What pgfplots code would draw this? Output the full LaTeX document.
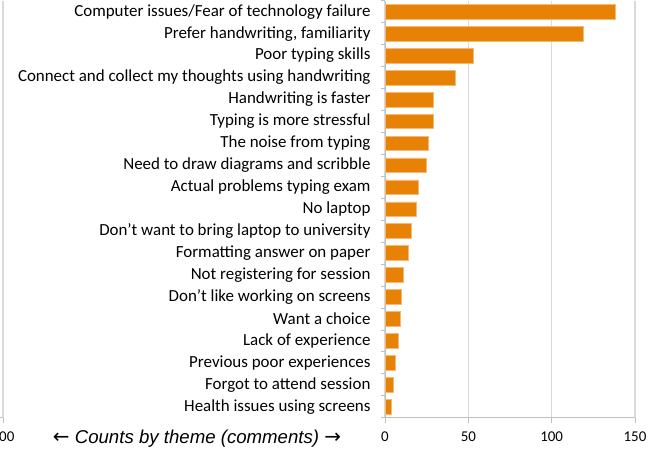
\documentclass[border=0pt]{standalone}
\usepackage{fontspec}
\setmainfont{Carlito}
\newfontfamily\arialfont{Liberation Sans}
\newfontfamily\dejavu{DejaVu Sans}
\usepackage{pgfplots}
\pgfplotsset{compat=1.18}
\definecolor{barorange}{RGB}{232,130,4}
\definecolor{baredge}{RGB}{242,185,120}
\definecolor{gridgray}{RGB}{217,217,217}
\definecolor{axgray}{RGB}{191,191,191}
\begin{document}
\begin{tikzpicture}
\path[use as bounding box] (0,0) rectangle (658bp,450bp);
% partial mirrored axis at left edge
\begin{axis}[
  at={(3bp,32.3bp)}, anchor=south east,
  scale only axis, width=20bp, height=417bp,
  xmin=80, xmax=100, ymin=0, ymax=1,
  axis x line=bottom, axis y line=none,
  x axis line style={-, draw=axgray, line width=0.8bp},
  xtick={100}, xticklabels={100},
  ytick=\empty,
  xmajorgrids, major grid style={draw=gridgray, line width=1.2bp},
  tick align=outside, major tick length=5bp,
  tick style={draw=axgray, line width=0.8bp},
  ticklabel style={font=\fontsize{15}{17}\selectfont, yshift=-6bp},
  /pgf/number format/assume math mode=true,
]
\end{axis}
\begin{axis}[
  at={(385bp,32.3bp)}, anchor=south west,
  scale only axis, width=250bp, height=417bp,
  xbar, bar width=0.67,
  xmin=0, xmax=150, ymin=-0.5, ymax=18.5,
  y dir=reverse,
  enlargelimits=false,
  axis x line=bottom, axis y line=left,
  axis line style={-, draw=axgray, line width=0.8bp},
  xtick={0,50,100,150},
  ytick={0,...,18},
  yticklabels={
    Computer issues/Fear of technology failure,
    {Prefer handwriting, familiarity},
    Poor typing skills,
    Connect and collect my thoughts using handwriting,
    Handwriting is faster,
    Typing is more stressful,
    The noise from typing,
    Need to draw diagrams and scribble,
    Actual problems typing exam,
    No laptop,
    Don’t want to bring laptop to university,
    Formatting answer on paper,
    Not registering for session,
    Don’t like working on screens,
    Want a choice,
    Lack of experience,
    Previous poor experiences,
    Forgot to attend session,
    Health issues using screens},
  minor ytick={-0.5,0.5,...,18.5},
  tick align=outside,
  major tick length=5bp,
  minor tick length=4bp,
  major y tick style={draw=none},
  minor y tick style={draw=axgray, line width=0.8bp},
  major x tick style={draw=axgray, line width=0.8bp},
  xmajorgrids, major grid style={draw=gridgray, line width=1.2bp},
  xticklabel style={font=\fontsize{15}{17}\selectfont, text=black, yshift=-6bp},
  yticklabel style={font=\fontsize{17}{19}\selectfont, text=black, xshift=-6bp},
  /pgf/number format/assume math mode=true,
]
\addplot[fill=barorange, draw=baredge, line width=0.6bp] coordinates {
  (138,0) (119,1) (53,2) (42,3) (29,4) (29,5) (26,6) (25,7) (20,8) (19,9)
  (16,10) (14,11) (11,12) (10,13) (9,14) (8,15) (6,16) (5,17) (4,18)
};
\end{axis}
\node[font=\arialfont\itshape\fontsize{18.7}{20}\selectfont, anchor=center, inner sep=0pt] at (197bp,11bp) {{\dejavu\upshape\fontsize{20}{20}\selectfont ←} Counts by theme (comments) {\dejavu\upshape\fontsize{20}{20}\selectfont →}};
\end{tikzpicture}
\end{document}
